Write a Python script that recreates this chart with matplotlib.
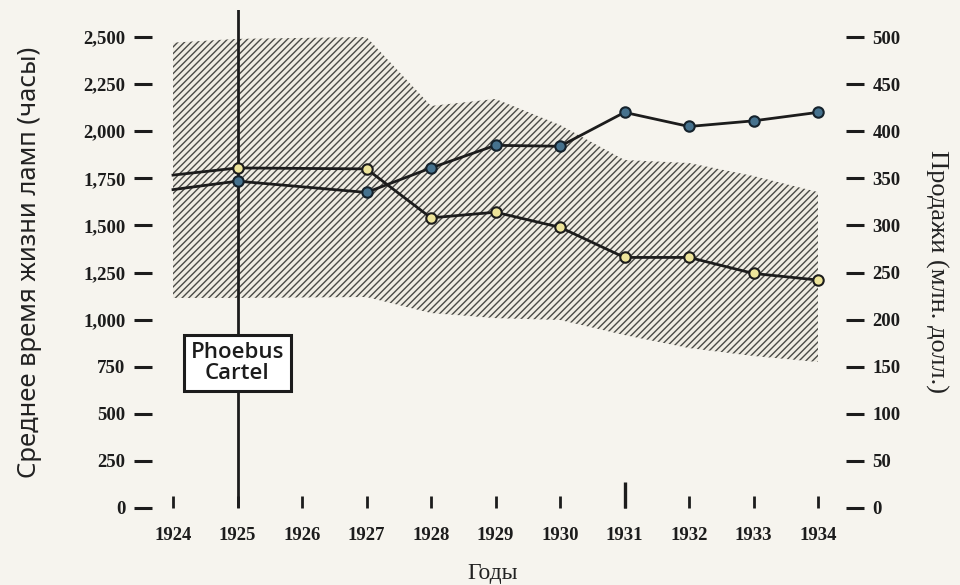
import matplotlib
matplotlib.use("Agg")
import matplotlib.pyplot as plt

# данные
years = [1924, 1925, 1926, 1927, 1928, 1929, 1930, 1931, 1932, 1933, 1934]
line_years = [1924, 1925, 1927, 1928, 1929, 1930, 1931, 1932, 1933, 1934]
lifetime_hours = [1767, 1805, 1800, 1540, 1570, 1490, 1330, 1330, 1245, 1210]
sales_mln = [338, 347, 335, 361, 385, 384, 420, 405, 411, 420]

band_years = [1924, 1925, 1927, 1928, 1929, 1930, 1931, 1932, 1933, 1934]
band_upper = [2470, 2490, 2500, 2134, 2171, 2033, 1847, 1831, 1762, 1677]
band_lower = [1115, 1115, 1120, 1035, 1008, 998, 918, 849, 807, 775]

left_ticks = [0, 250, 500, 750, 1000, 1250, 1500, 1750, 2000, 2250, 2500]
right_ticks = [0, 50, 100, 150, 200, 250, 300, 350, 400, 450, 500]
cartel_year = 1925

paper = "#f6f4ee"
ink = "#1c1c1c"
serif = "Liberation Serif"

W, H = 960, 585
fig = plt.figure(figsize=(W / 100, H / 100), dpi=100, facecolor=paper)
# оси: x 152..846 px, y 10..508 px
ax = fig.add_axes([152 / W, (H - 508) / H, (846 - 152) / W, (508 - 10) / H])
ax.set_facecolor(paper)
px_year = (818 - 173) / 10
ax.set_xlim(1924 - 21 / px_year, 1934 + 28 / px_year)
px_hour = (508 - 37) / 2500
ax.set_ylim(0, 2500 + 27 / px_hour)
ax2 = ax.twinx()
ax2.set_ylim(0, (2500 + 27 / px_hour) / 5)

for a in (ax, ax2):
    for s in a.spines.values():
        s.set_visible(False)

plt.rcParams["hatch.linewidth"] = 1.0
ax.fill_between(band_years, band_lower, band_upper, facecolor="#efece3",
                edgecolor="#4a4a46", hatch="/////", linewidth=0, zorder=1)

ax.axvline(cartel_year, color=ink, lw=2, zorder=3)

ax.plot(line_years, lifetime_hours, color=ink, lw=2.0, zorder=4,
        marker="o", ms=7.5, mfc="#ede49a", mec=ink, mew=1.5, markevery=list(range(1, len(line_years))))
ax2.plot(line_years, sales_mln, color=ink, lw=2.0, zorder=4,
         marker="o", ms=7.5, mfc="#46728e", mec="#15222c", mew=1.5, markevery=list(range(1, len(sales_mln))))
ax2.set_zorder(ax.get_zorder() + 1)
ax2.patch.set_visible(False)

ax.text(cartel_year, 770, "Phoebus\nCartel", ha="center", va="center",
        fontsize=16, family="Open Sans", fontweight="semibold", color=ink,
        linespacing=1.05, zorder=6,
        bbox=dict(boxstyle="square,pad=0.3", fc="white", ec=ink, lw=2.2))

tick_font = dict(family=serif, fontsize=13.5, fontweight="bold")
ax.set_yticks(left_ticks)
ax.set_yticklabels([f"{v:,}" for v in left_ticks], **tick_font)
ax.tick_params(axis="y", direction="out", length=13, width=2.2, pad=6, colors=ink)
ax2.set_yticks(right_ticks)
ax2.set_yticklabels([str(v) for v in right_ticks], **tick_font)
ax2.tick_params(axis="y", direction="out", length=13, width=2.2, pad=6, colors=ink)

ax.set_xticks(years)
ax.set_xticklabels([str(y) for y in years], **tick_font)
ax.xaxis.remove_overlapping_locs = False
ax.set_xticks([1931], minor=True)
ax.tick_params(axis="x", which="major", direction="in", length=9, width=2, pad=14, colors=ink)
ax.tick_params(axis="x", which="minor", direction="in", length=19, width=2.4, colors=ink)

fig.text(30 / W, 1 - 262 / H, "Среднее время жизни ламп (часы)", rotation=90,
         ha="center", va="center", fontsize=18.5, family="Noto Sans", color="#222")
fig.text(937 / W, 1 - 272 / H, "Продажи (млн. долл.)", rotation=-90,
         ha="center", va="center", fontsize=19, family=serif, color="#222")
fig.text(493 / W, 1 - 573 / H, "Годы", ha="center", va="center",
         fontsize=17, family=serif, color="#222")

fig.savefig("out.png", dpi=100, facecolor=paper)
